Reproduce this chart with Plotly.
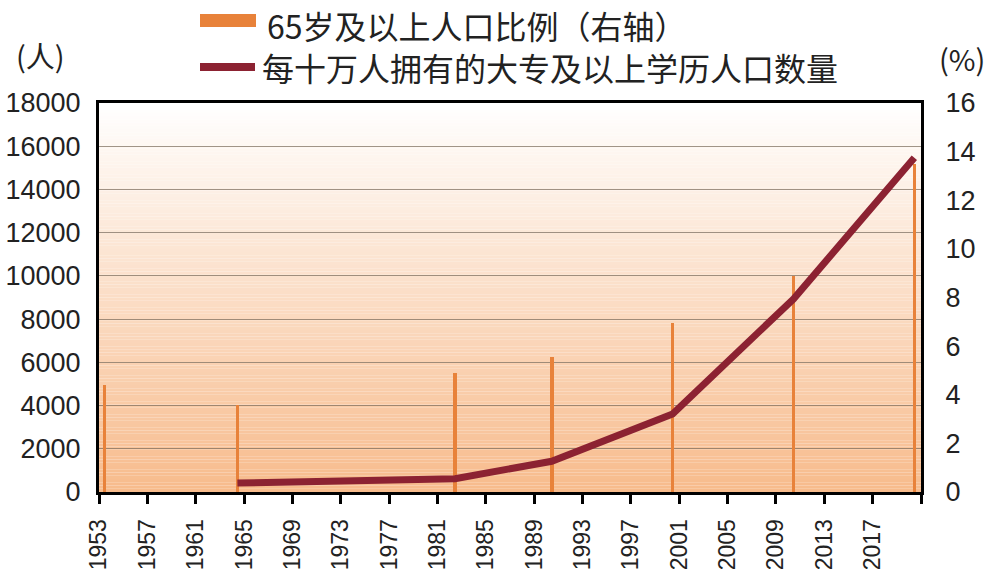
import plotly.graph_objects as go

# ---- data ----
census_years = [1953, 1964, 1982, 1990, 2000, 2010, 2020]
elderly_pct = [4.41, 3.56, 4.91, 5.57, 6.96, 8.87, 13.50]          # right axis (%)
edu_years = [1964, 1982, 1990, 2000, 2010, 2020]
edu_per_100k = [416, 615, 1422, 3611, 8930, 15467]                   # left axis (人)
tick_years = list(range(1953, 2022, 4))
tick_labels = [str(y) if y <= 2017 else "" for y in tick_years]

BAR_NAME = "65岁及以上人口比例（右轴）"
LINE_NAME = "每十万人拥有的大专及以上学历人口数量"

ORANGE = "#E8823A"
DARKRED = "#8C2232"
NUM_FONT = dict(family="Liberation Sans, Arial, sans-serif", size=27, color="#222")
X_FONT = dict(family="Liberation Sans, Arial, sans-serif", size=23, color="#222")
CJK_FONT = dict(family="Noto Sans CJK SC, sans-serif", size=32, color="#222")

L, R, T, B = 99, 71, 103, 83
W, H = 992, 575
PW, PH = W - L - R, H - T - B


def px(xp):
    return (xp - L) / PW


def py(yp):
    return (H - B - yp) / PH


OFF = 0.45  # census point sits within its year

fig = go.Figure()
fig.add_trace(go.Bar(
    x=[y + OFF for y in census_years], y=elderly_pct, name=BAR_NAME,
    marker=dict(color=ORANGE, line=dict(width=0)), width=0.3,
    yaxis="y", showlegend=False,
))
fig.add_trace(go.Scatter(
    x=[y + OFF for y in edu_years], y=edu_per_100k, name=LINE_NAME,
    mode="lines", line=dict(color=DARKRED, width=7),
    yaxis="y2", showlegend=False,
))

# gradient background (white top -> light orange bottom)
shapes = []
N = 120
top = (255, 255, 255)
bot = (247, 187, 140)
for i in range(N):
    t = (i + 0.5) / N
    c = tuple(round(top[k] + (bot[k] - top[k]) * t) for k in range(3))
    shapes.append(dict(
        type="rect", xref="x domain", yref="y domain",
        x0=0, x1=1, y0=1 - (i + 1) / N, y1=1 - i / N,
        fillcolor="rgb(%d,%d,%d)" % c, line=dict(width=0), layer="below",
    ))

# custom legend
shapes.append(dict(type="rect", xref="paper", yref="paper",
                   x0=px(200), x1=px(256), y0=py(27), y1=py(14),
                   fillcolor=ORANGE, line=dict(width=0)))
shapes.append(dict(type="line", xref="paper", yref="paper",
                   x0=px(200), x1=px(255), y0=py(67), y1=py(67),
                   line=dict(color=DARKRED, width=8)))

annotations = [
    dict(text=BAR_NAME, xref="paper", yref="paper", x=px(265), y=py(0),
         xanchor="left", yanchor="top", showarrow=False, font=CJK_FONT),
    dict(text=LINE_NAME, xref="paper", yref="paper", x=px(260), y=py(67),
         xanchor="left", yanchor="middle", showarrow=False, font=CJK_FONT),
    dict(text="(人)", xref="paper", yref="paper", x=px(40), y=py(55),
         xanchor="center", yanchor="middle", showarrow=False,
         font=dict(family="Noto Sans CJK SC, sans-serif", size=29, color="#222")),
    dict(text="(%)", xref="paper", yref="paper", x=px(962), y=py(58),
         xanchor="center", yanchor="middle", showarrow=False,
         font=dict(family="Noto Sans CJK SC, sans-serif", size=29, color="#222")),
]

fig.update_layout(
    width=W, height=H,
    margin=dict(l=L, r=R, t=T, b=B, pad=0, autoexpand=False),
    paper_bgcolor="white", plot_bgcolor="rgba(0,0,0,0)",
    shapes=shapes, annotations=annotations, bargap=0,
    xaxis=dict(
        range=[1953, 2021], tickmode="array", tickvals=tick_years, ticktext=tick_labels,
        tickangle=-90, ticks="outside", ticklen=9, tickwidth=3, tickcolor="black",
        showline=True, linecolor="black", linewidth=3, mirror=True, automargin=False,
        showgrid=False, zeroline=False, tickfont=X_FONT, ticklabelstandoff=6,
    ),
    yaxis=dict(
        range=[0, 16], dtick=2, side="right", showgrid=False, zeroline=False,
        showline=True, linecolor="black", linewidth=3, ticks="", automargin=False,
        tickfont=NUM_FONT, ticklabelstandoff=16,
    ),
    yaxis2=dict(
        range=[0, 18000], dtick=2000, side="left", overlaying="y", tickformat="d",
        showgrid=True, gridcolor="rgba(120,105,90,0.7)", gridwidth=1.2,
        zeroline=False, showline=True, linecolor="black", linewidth=3, ticks="",
        tickfont=NUM_FONT, ticklabelstandoff=10, automargin=False,
    ),
)

fig.write_html("out.html")
